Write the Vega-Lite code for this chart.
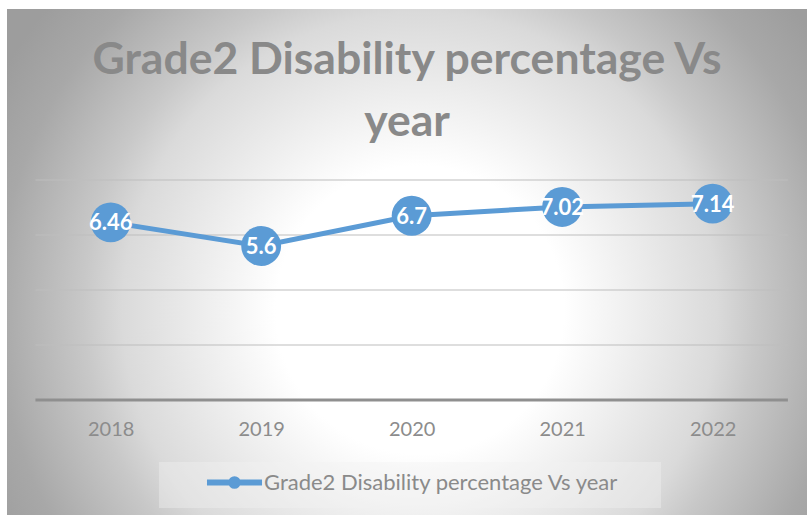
{
  "$schema": "https://vega.github.io/schema/vega-lite/v6.json",
  "width": 800,
  "height": 506,
  "autosize": {"type": "none"},
  "padding": {"left": 7, "top": 9, "right": 0, "bottom": 0},
  "background": "#ffffff",
  "title": {
    "text": ["Grade2 Disability percentage Vs", "year"],
    "font": "Lato",
    "fontSize": 44.5,
    "fontWeight": "bold",
    "color": "#898989",
    "lineHeight": 62,
    "anchor": "middle",
    "frame": "group",
    "offset": -136
  },
  "config": {
    "view": {
      "stroke": null,
      "fill": {
        "gradient": "radial",
        "x1": 0.516, "y1": 0.56, "r1": 0,
        "x2": 0.516, "y2": 0.56, "r2": 0.6,
        "stops": [
          {"offset": 0, "color": "#ffffff"},
          {"offset": 0.3, "color": "#ffffff"},
          {"offset": 0.62, "color": "#dadada"},
          {"offset": 0.7, "color": "#c8c8c8"},
          {"offset": 0.88, "color": "#a8a8a8"},
          {"offset": 1, "color": "#9d9d9d"}
        ]
      }
    }
  },
  "datasets": {
    "main": [
      {"year": 2018, "value": 6.46, "series": "Grade2 Disability percentage Vs year"},
      {"year": 2019, "value": 5.6, "series": "Grade2 Disability percentage Vs year"},
      {"year": 2020, "value": 6.7, "series": "Grade2 Disability percentage Vs year"},
      {"year": 2021, "value": 7.02, "series": "Grade2 Disability percentage Vs year"},
      {"year": 2022, "value": 7.14, "series": "Grade2 Disability percentage Vs year"}
    ],
    "grid": [{"g": 2}, {"g": 4}, {"g": 6}, {"g": 8}]
  },
  "layer": [
    {
      "data": {"name": "grid"},
      "mark": {"type": "rule", "color": "#bdbdbd", "strokeWidth": 1.2},
      "encoding": {
        "x": {
          "datum": 2017.5, "type": "quantitative",
          "scale": {"domain": [2017.311, 2022.627], "nice": false, "zero": false},
          "axis": {
            "orient": "bottom", "values": [2018, 2019, 2020, 2021, 2022], "format": "d",
            "domain": false, "ticks": false, "grid": false, "title": null,
            "labelFont": "Lato", "labelFontSize": 20, "labelColor": "#8c8c8c",
            "offset": -115, "labelPadding": 19
          }
        },
        "x2": {"datum": 2022.5},
        "y": {"field": "g", "type": "quantitative", "scale": {"domain": [-4.182, 14.218], "nice": false, "zero": false}, "axis": null}
      }
    },
    {
      "data": {"name": "grid"},
      "transform": [{"filter": "datum.g == 2"}],
      "mark": {"type": "rule", "color": "#8f8f8f", "strokeWidth": 3},
      "encoding": {
        "x": {"datum": 2017.5, "type": "quantitative"},
        "x2": {"datum": 2022.5},
        "y": {"datum": 0, "type": "quantitative"}
      }
    },
    {
      "data": {"name": "main"},
      "mark": {"type": "line", "strokeWidth": 5},
      "encoding": {
        "x": {"field": "year", "type": "quantitative"},
        "y": {"field": "value", "type": "quantitative"},
        "color": {
          "field": "series", "type": "nominal",
          "scale": {"range": ["#5b9bd5"]},
          "legend": {
            "orient": "none", "legendX": 152, "legendY": 453,
            "title": "\u00a0", "titleOrient": "right", "titlePadding": 31.5, "titleFontSize": 14,
            "symbolType": "M-3.44,0L3.44,0M0.41,0A0.41,0.41,0,1,1,-0.41,0A0.41,0.41,0,1,1,0.41,0",
            "symbolSize": 256, "symbolStrokeWidth": 6,
            "symbolFillColor": "#5b9bd5", "symbolStrokeColor": "#5b9bd5",
            "symbolOffset": 55, "labelOffset": 18.5,
            "labelFont": "Lato", "labelFontSize": 22, "labelColor": "#8a8a8a", "labelLimit": 0,
            "fillColor": "rgba(242,242,242,0.39)", "padding": 9.5
          }
        }
      }
    },
    {
      "data": {"name": "main"},
      "mark": {"type": "point", "filled": true, "opacity": 1, "size": 1590},
      "encoding": {
        "x": {"field": "year", "type": "quantitative"},
        "y": {"field": "value", "type": "quantitative"},
        "color": {"field": "series", "type": "nominal"}
      }
    },
    {
      "data": {"name": "main"},
      "mark": {"type": "text", "color": "#ffffff", "font": "Lato", "fontWeight": "bold", "fontSize": 22, "align": "center", "baseline": "middle", "dy": 1},
      "encoding": {
        "x": {"field": "year", "type": "quantitative"},
        "y": {"field": "value", "type": "quantitative"},
        "text": {"field": "value", "type": "nominal"}
      }
    }
  ]
}
